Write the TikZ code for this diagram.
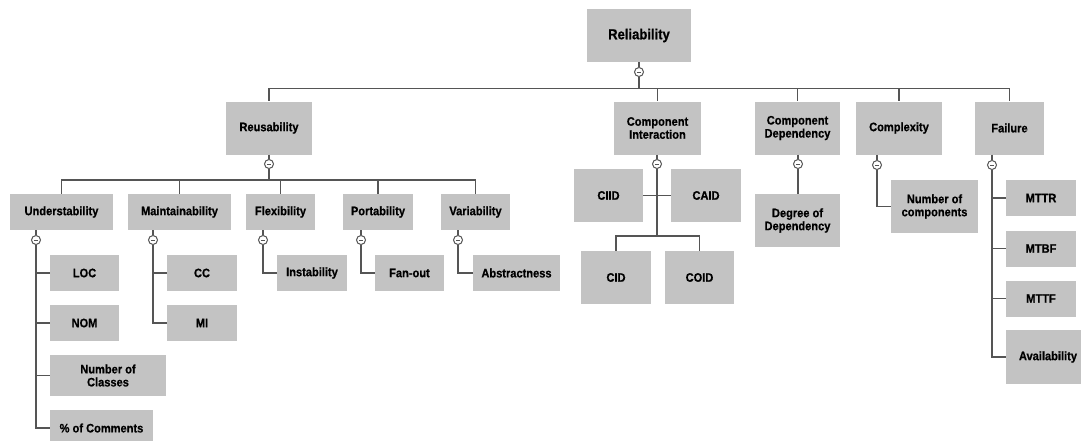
\documentclass[tikz,border=0pt]{standalone}
\usepackage{fontspec}
\setmainfont{Liberation Sans}[FakeStretch=0.9, BoldFeatures={FakeBold=0.6}]
\begin{document}
\begin{tikzpicture}[x=1pt,y=-1pt,
  box/.style={fill=boxgray, draw=none, inner sep=0pt, align=center,
    font=\bfseries\fontsize{12.3}{13}\selectfont},
  tall/.style={box, minimum height=53pt},
  short/.style={box, minimum height=36pt},
  ln/.style={draw=linegray, line width=1.6pt},
  tog/.style={circle, draw=linegray, line width=1pt, fill=white, minimum size=9pt, inner sep=0pt,
    path picture={\draw[linegray, line width=1pt] ([xshift=-2.2pt]path picture bounding box.center) -- ([xshift=2.2pt]path picture bounding box.center);}}
]
\definecolor{boxgray}{RGB}{195,195,195}
\definecolor{linegray}{RGB}{85,85,85}
\useasboundingbox (0,0) rectangle (1081,440);
\clip (0,0) rectangle (1081,440);

% level 0
\node[tall, minimum width=104pt, font=\bfseries\fontsize{14.5}{15}\selectfont] (rel) at (639,35.5) {Reliability};
% level 1
\node[tall, minimum width=86pt] (reus) at (269,128) {Reusability};
\node[tall, minimum width=87pt] (ci) at (657.5,128) {Component\\Interaction};
\node[tall, minimum width=85pt] (cd) at (797.5,128) {Component\\Dependency};
\node[tall, minimum width=86pt] (cx) at (899,128) {Complexity};
\node[tall, minimum width=69pt] (fail) at (1009.5,128) {Failure};
% level 2 (reusability)
\node[short, minimum width=103pt] (und) at (61.5,212) {Understability};
\node[short, minimum width=103pt] (main) at (179.5,212) {Maintainability};
\node[short, minimum width=69pt] (flex) at (280.5,212) {Flexibility};
\node[short, minimum width=70pt] (port) at (378,212) {Portability};
\node[short, minimum width=69pt] (var) at (475.5,212) {Variability};
% leaves
\node[short, minimum width=69pt] (loc) at (84.5,273) {LOC};
\node[short, minimum width=69pt] (nom) at (84.5,323) {NOM};
\node[box, minimum width=116pt, minimum height=41pt] (ncl) at (108,375.5) {Number of\\Classes};
\node[short, minimum width=103pt] (pct) at (101.5,428) {\% of Comments};
\node[short, minimum width=70pt] (cc) at (202,273) {CC};
\node[short, minimum width=70pt] (mi) at (202,323) {MI};
\node[short, minimum width=70pt] (inst) at (312,273) {Instability};
\node[short, minimum width=69pt] (fan) at (409.5,273) {Fan-out};
\node[short, minimum width=87pt] (abs) at (516.5,273) {Abstractness};
\node[tall, minimum width=69pt] (ciid) at (608.5,195.5) {CIID};
\node[tall, minimum width=70pt] (caid) at (706,195.5) {CAID};
\node[tall, minimum width=70pt] (cid) at (616,277.5) {CID};
\node[tall, minimum width=69pt] (coid) at (699.5,277.5) {COID};
\node[tall, minimum width=85pt] (dod) at (797.5,220.5) {Degree of\\Dependency};
\node[tall, minimum width=87pt] (noc) at (934.5,206.5) {Number of\\components};
\node[short, minimum width=70pt] (mttr) at (1041,198) {MTTR};
\node[short, minimum width=70pt] (mtbf) at (1041,248.5) {MTBF};
\node[short, minimum width=70pt] (mttf) at (1041,298.5) {MTTF};
\node[box, minimum width=84pt, minimum height=54pt, text width=84pt] (avail) at (1048,357) {Availability};

% toggles
\node[tog] (trel) at (639,72) {};
\node[tog] (treus) at (269,164) {};
\node[tog] (tci) at (657,164) {};
\node[tog] (tcd) at (798,164) {};
\node[tog] (tcx) at (877,165) {};
\node[tog] (tfail) at (992,165) {};
\node[tog] (tund) at (36,240) {};
\node[tog] (tmain) at (153,240) {};
\node[tog] (tflex) at (263,240) {};
\node[tog] (tport) at (361,240) {};
\node[tog] (tvar) at (458,240) {};

\coordinate (busci) at (657,236);

% connectors
\draw[ln] (rel.south -| trel) -- (trel.north);
\foreach \c in {reus,ci,cd,cx,fail} \draw[ln] (trel.south) -- ++(0,11.5) -| (\c.north);

\draw[ln] (reus.south -| treus) -- (treus.north);
\foreach \c in {und,main,flex,port,var} \draw[ln] (treus.south) -- ++(0,11) -| (\c.north);

\draw[ln] (und.south -| tund) -- (tund.north);
\foreach \c in {loc,nom,ncl,pct} \draw[ln] (tund.south) |- (\c.west);
\draw[ln] (main.south -| tmain) -- (tmain.north);
\foreach \c in {cc,mi} \draw[ln] (tmain.south) |- (\c.west);
\draw[ln] (flex.south -| tflex) -- (tflex.north);
\draw[ln] (tflex.south) |- (inst.west);
\draw[ln] (port.south -| tport) -- (tport.north);
\draw[ln] (tport.south) |- (fan.west);
\draw[ln] (var.south -| tvar) -- (tvar.north);
\draw[ln] (tvar.south) |- (abs.west);

\draw[ln] (ci.south -| tci) -- (tci.north);
\draw[ln] (tci.south) -- (busci);
\draw[ln] (ciid.east) -- (caid.west);
\foreach \c in {cid,coid} \draw[ln] (busci) -| (\c.north);

\draw[ln] (cd.south -| tcd) -- (tcd.north);
\draw[ln] (tcd.south) -- (dod.north -| tcd);

\draw[ln] (cx.south -| tcx) -- (tcx.north);
\draw[ln] (tcx.south) |- (noc.west);

\draw[ln] (fail.south -| tfail) -- (tfail.north);
\foreach \c in {mttr,mtbf,mttf,avail} \draw[ln] (tfail.south) |- (\c.west);
\end{tikzpicture}
\end{document}
